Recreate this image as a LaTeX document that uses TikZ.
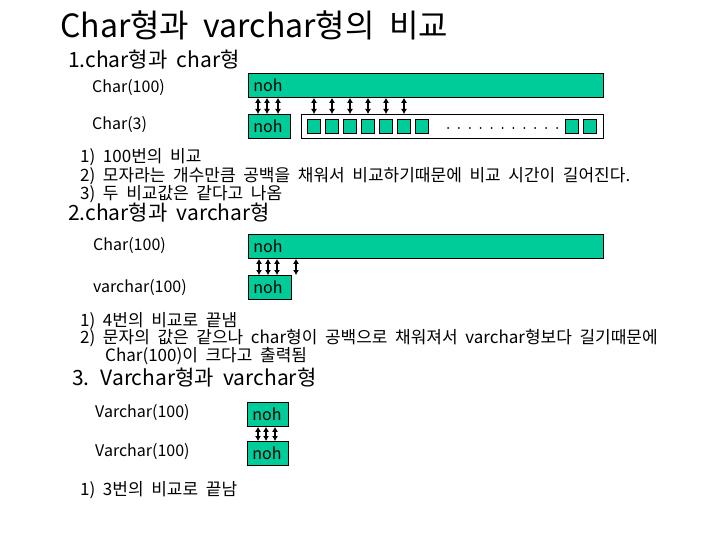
\documentclass[tikz,border=0pt]{standalone}
\usepackage{fontspec}
\setmainfont{Noto Sans CJK KR}[WordSpace=2]
\usepackage{tikz}
\usetikzlibrary{arrows.meta}
\definecolor{nohgreen}{RGB}{0,204,153}

\begin{document}
\begin{tikzpicture}[x=1pt, y=-1pt,
	every node/.style={font=\fontsize{17}{20}\selectfont, anchor=west, inner sep=0pt},
	heading/.style={font=\fontsize{21}{25}\selectfont},
	label/.style={font=\fontsize{16}{19}\selectfont},
	cell/.style={draw, line width=0.8pt, fill=nohgreen, anchor=north west, minimum height=24pt, inner xsep=5pt, text width=#1, align=left, font=\fontsize{16}{19}\selectfont},
	slot/.style={draw, line width=0.8pt, fill=nohgreen, anchor=center, minimum width=12.5pt, minimum height=14pt},
	cmp/.style={{Latex[length=5pt,width=6pt]}-{Latex[length=5pt,width=6pt]}, line width=1.6pt}]
	\useasboundingbox (0,0) rectangle (720,540);
	\node[font=\fontsize{32}{38}\selectfont] (title) at (60,25) {Char형과 varchar형의 비교};
	\node[heading] (h1) at (68,60) {1.char형과 char형};
	\node[label] (lab1a) at (92,88) {Char(100)};
	\node[label] (lab1b) at (92,125) {Char(3)};
	\node[cell=345pt] (long1) at (248,73) {noh};
	\node[cell=32pt] (short1) at (248,114) {noh};
	\node[draw, line width=0.8pt, anchor=north west, minimum width=302pt, minimum height=24pt] (row1) at (301,114) {};
	\foreach \i in {1,...,7}
		\node[slot] (s\i) at ({296+18*\i},126) {};
	\node[slot] (s8) at (572,126) {};
	\node[slot] (s9) at (590,126) {};
	\foreach \i in {0,...,10}
		\fill (448+10.9*\i,128) circle (1pt);
	\foreach \d in {10,19,30}
		\draw[cmp] ([xshift=\d pt]long1.south west) -- ([xshift=\d pt]short1.north west);
	\foreach \i in {1,...,6}
		\draw[cmp] (s\i |- long1.south) -- (s\i |- row1.north);
	\node (n1a) at (80,157) {1) 100번의 비교};
	\node (n1b) at (80,176) {2) 모자라는 개수만큼 공백을 채워서 비교하기때문에 비교 시간이 길어진다.};
	\node (n1c) at (80,194) {3) 두 비교값은 같다고 나옴};
	\node[heading] (h2) at (68,213) {2.char형과 varchar형};
	\node[label] (lab2a) at (93,246) {Char(100)};
	\node[label] (lab2b) at (93,288) {varchar(100)};
	\node[cell=345pt] (long2) at (248,234) {noh};
	\node[cell=33pt] (short2) at (248,275) {noh};
	\foreach \d in {11,20,29,48}
		\draw[cmp] ([xshift=\d pt]long2.south west) -- ([xshift=\d pt]short2.north west);
	\node (n2a) at (80,321) {1) 4번의 비교로 끝냄};
	\node (n2b) at (80,338) {2) 문자의 값은 같으나 char형이 공백으로 채워져서 varchar형보다 길기때문에};
	\node (n2c) at (105,356) {Char(100)이 크다고 출력됨};
	\node[heading] (h3) at (72,378) {3. Varchar형과 varchar형};
	\node[label] (lab3a) at (95,413) {Varchar(100)};
	\node[label] (lab3b) at (95,452) {Varchar(100)};
	\node[cell=31pt] (top3) at (247,402) {noh};
	\node[cell=31pt] (bot3) at (247,441) {noh};
	\foreach \d in {11,19,28}
		\draw[cmp] ([xshift=\d pt]top3.south west) -- ([xshift=\d pt]bot3.north west);
	\node (n3a) at (80,490) {1) 3번의 비교로 끝남};
\end{tikzpicture}
\end{document}
